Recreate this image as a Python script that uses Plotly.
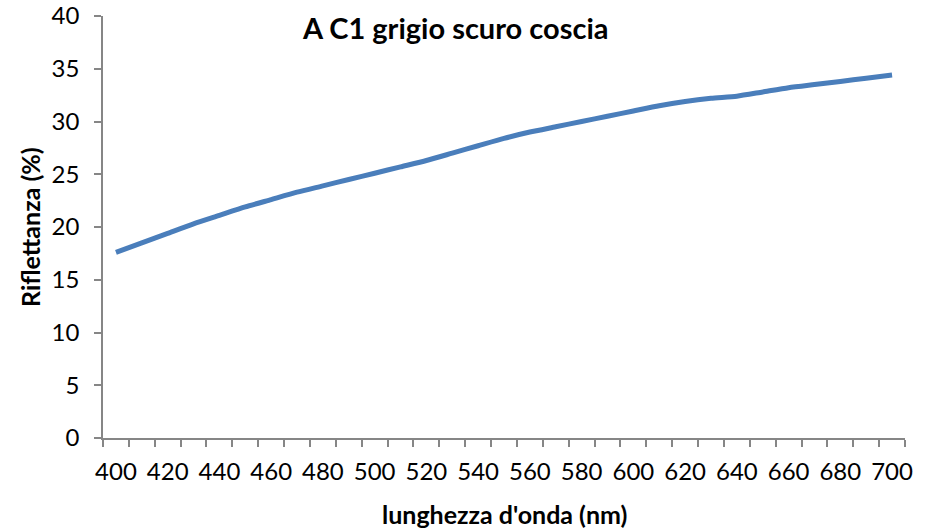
import plotly.graph_objects as go

wavelength = list(range(400, 701, 10))
reflectance = [17.6, 18.5, 19.4, 20.3, 21.1, 21.9, 22.6, 23.3, 23.9, 24.5,
               25.1, 25.7, 26.3, 27.0, 27.7, 28.4, 29.0, 29.5, 30.0, 30.5,
               31.0, 31.5, 31.9, 32.2, 32.4, 32.8, 33.2, 33.5, 33.8, 34.1, 34.4]
x_labels = list(range(400, 701, 20))
y_ticks = list(range(0, 41, 5))

title_text = "A C1 grigio scuro coscia"
x_title = "lunghezza d'onda (nm)"
y_title = "Riflettanza (%)"

axis_color = "#868686"
font_family = "Lato, 'Open Sans', sans-serif"

fig = go.Figure()
fig.add_trace(go.Scatter(
    x=wavelength, y=reflectance, mode="lines",
    line=dict(color="#4A7EBB", width=5, shape="spline", smoothing=0.6),
    showlegend=False, hoverinfo="x+y",
))

fig.update_layout(
    width=932, height=532,
    margin=dict(l=103, r=27, t=16, b=94, autoexpand=False),
    paper_bgcolor="white", plot_bgcolor="white",
    font=dict(family=font_family, color="black"),
)

fig.update_xaxes(
    range=[395, 705], automargin=False,
    tickmode="array", tickvals=x_labels, ticktext=[str(v) for v in x_labels],
    ticks="", ticklabelstandoff=11, ticklabeloverflow="allow",
    tickfont=dict(size=24),
    minor=dict(tick0=395, dtick=10, ticks="outside", ticklen=7,
               tickcolor=axis_color, tickwidth=1.5, showgrid=False),
    showline=True, linecolor=axis_color, linewidth=1.5,
    showgrid=False, zeroline=False,
)

fig.update_yaxes(
    range=[0, 40], automargin=False,
    tickmode="array", tickvals=y_ticks,
    ticks="outside", ticklen=7, tickcolor=axis_color, tickwidth=1.5,
    ticklabelstandoff=10, ticklabeloverflow="allow",
    tickfont=dict(size=24),
    showline=True, linecolor=axis_color, linewidth=1.5,
    showgrid=False, zeroline=False,
)

fig.add_annotation(text="<b>" + title_text + "</b>", xref="paper", yref="paper",
                   x=0.44, y=1.0, xanchor="center", yanchor="top",
                   yshift=8, showarrow=False, font=dict(size=29, color="black"))
fig.add_annotation(text="<b>" + x_title + "</b>", xref="paper", yref="paper",
                   x=0.5, y=0, xanchor="center", yanchor="middle",
                   yshift=-76, showarrow=False, font=dict(size=25, color="black"))
fig.add_annotation(text="<b>" + y_title + "</b>", xref="paper", yref="paper",
                   x=0, y=0.5, xanchor="center", yanchor="middle", textangle=-90,
                   xshift=-73, showarrow=False, font=dict(size=25, color="black"))

fig.write_html("out.html", config={"displayModeBar": False},
               post_script="document.body.style.margin='0';document.body.style.overflow='hidden';")
